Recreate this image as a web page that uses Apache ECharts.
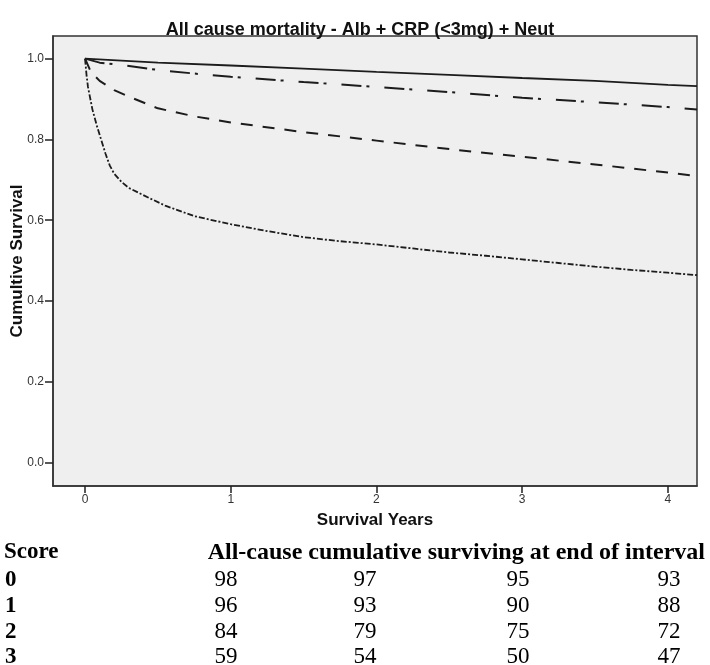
<!DOCTYPE html>
<html>
<head>
<meta charset="utf-8">
<script src="https://cdn.jsdelivr.net/npm/echarts@6/dist/echarts.min.js"></script>
<style>
html,body{margin:0;padding:0;background:#fff;}
#chart{width:710px;height:665px;}
</style>
</head>
<body>
<div id="chart"></div>
<script>
// ---- Data ----
const titleText = 'All cause mortality - Alb + CRP (<3mg) + Neut';
const xTicks = [0, 1, 2, 3, 4];
const yTicks = [0, 0.2, 0.4, 0.6, 0.8, 1.0];

// Survival curves: [years, cumulative survival]
const score0 = [[0,1.0],[0.25,0.995],[0.5,0.99],[1,0.983],[1.5,0.975],[2,0.967],[2.5,0.96],[3,0.952],[3.5,0.945],[4,0.935],[4.2,0.932]];
const score1 = [[0,1.0],[0.1,0.99],[0.25,0.984],[0.5,0.972],[0.75,0.963],[1,0.955],[1.5,0.942],[2,0.93],[2.5,0.917],[3,0.903],[3.5,0.892],[4,0.88],[4.2,0.874]];
const score2 = [[0,1.0],[0.04,0.967],[0.1,0.945],[0.2,0.922],[0.3,0.906],[0.5,0.877],[0.75,0.857],[1,0.842],[1.5,0.818],[2,0.797],[2.5,0.776],[3,0.757],[3.5,0.738],[4,0.718],[4.2,0.709]];
const score3 = [[0,1.0],[0.01,0.96],[0.02,0.93],[0.05,0.875],[0.08,0.835],[0.11,0.80],[0.14,0.765],[0.17,0.735],[0.2,0.715],[0.25,0.695],[0.3,0.68],[0.4,0.662],[0.55,0.636],[0.75,0.61],[1,0.59],[1.25,0.573],[1.5,0.558],[1.75,0.548],[2,0.54],[2.25,0.53],[2.5,0.52],[2.75,0.512],[3,0.503],[3.25,0.494],[3.5,0.485],[3.75,0.477],[4,0.47],[4.2,0.464]];

// Table below the chart
const tableHeaderLeft = 'Score';
const tableHeaderRight = 'All-cause cumulative surviving at end of interval';
const tableScores = ['0', '1', '2', '3'];
const tableValues = [
  [98, 97, 95, 93],
  [96, 93, 90, 88],
  [84, 79, 75, 72],
  [59, 54, 50, 47]
];

// ---- Chart ----
const chart = echarts.init(document.getElementById('chart'), null, {renderer: 'canvas'});
const lineColor = '#1c1c1c';
const sans = 'Arial, "Liberation Sans", sans-serif';
function mkSeries(name, data, type, width) {
  return {
    name: name, type: 'line', data: data, showSymbol: false, symbol: 'none',
    smooth: false, animation: false, clip: true,
    lineStyle: {color: lineColor, width: width, type: type}
  };
}

const tableFont = "'Liberation Serif','Times New Roman',serif";
const colCenters = [226, 365, 518, 669];
const rowYs = [580, 606, 632, 657];
const graphics = [];
graphics.push({type: 'text', left: 4, top: 541, style: {text: tableHeaderLeft, font: 'bold 23px ' + tableFont, fill: '#000'}});
graphics.push({type: 'text', right: 5, top: 541, style: {text: tableHeaderRight, font: 'bold 24px ' + tableFont, fill: '#000'}});
tableScores.forEach((s, i) => {
  graphics.push({type: 'text', x: 5, y: rowYs[i], style: {text: s, font: 'bold 23px ' + tableFont, fill: '#000', verticalAlign: 'middle'}});
  tableValues[i].forEach((v, j) => {
    graphics.push({type: 'text', x: colCenters[j], y: rowYs[i], style: {text: String(v), font: '23px ' + tableFont, fill: '#000', align: 'center', verticalAlign: 'middle'}});
  });
});

const option = {
  animation: false,
  backgroundColor: '#fff',
  title: {
    text: titleText, left: 355, textAlign: 'center', top: 16,
    textStyle: {fontFamily: sans, fontWeight: 'bold', fontSize: 18, color: '#111'}
  },
  grid: {left: 53, right: 13, top: 36, bottom: 179, outerBoundsMode: 'none', containLabel: false, show: true, backgroundColor: '#efefef', borderColor: '#333', borderWidth: 1.5},
  xAxis: {
    type: 'value', min: -0.22, max: 4.2, position: 'bottom',
    name: 'Survival Years', nameLocation: 'middle', nameGap: 26, nameMoveOverlap: false,
    nameTextStyle: {fontFamily: sans, fontWeight: 'bold', fontSize: 17, color: '#111'},
    axisLine: {show: true, onZero: false, lineStyle: {color: '#333', width: 1.5}},
    axisTick: {show: true, length: 7, customValues: xTicks, lineStyle: {color: '#222', width: 1.5}},
    axisLabel: {customValues: xTicks, margin: 8, fontSize: 12, fontFamily: sans, color: '#333'},
    splitLine: {show: false}
  },
  yAxis: {
    type: 'value', min: -0.058, max: 1.056,
    name: 'Cumultive Survival', nameLocation: 'middle', nameGap: 27, nameRotate: 90, nameMoveOverlap: false,
    nameTextStyle: {fontFamily: sans, fontWeight: 'bold', fontSize: 17, color: '#111'},
    axisLine: {show: true, onZero: false, lineStyle: {color: '#333', width: 1.5}},
    axisTick: {show: true, length: 8, customValues: yTicks, lineStyle: {color: '#222', width: 1.5}},
    axisLabel: {customValues: yTicks, margin: 9, fontSize: 12, fontFamily: sans, color: '#333', formatter: v => v.toFixed(1)},
    splitLine: {show: false}
  },
  series: [
    mkSeries('0', score0, 'solid', 1.8),
    mkSeries('1', score1, [20, 5, 3, 15], 2),
    mkSeries('2', score2, [12, 10], 2),
    mkSeries('3', score3, [6, 2, 2, 2], 1.8)
  ],
  graphic: graphics
};
chart.setOption(option);
</script>
</body>
</html>
